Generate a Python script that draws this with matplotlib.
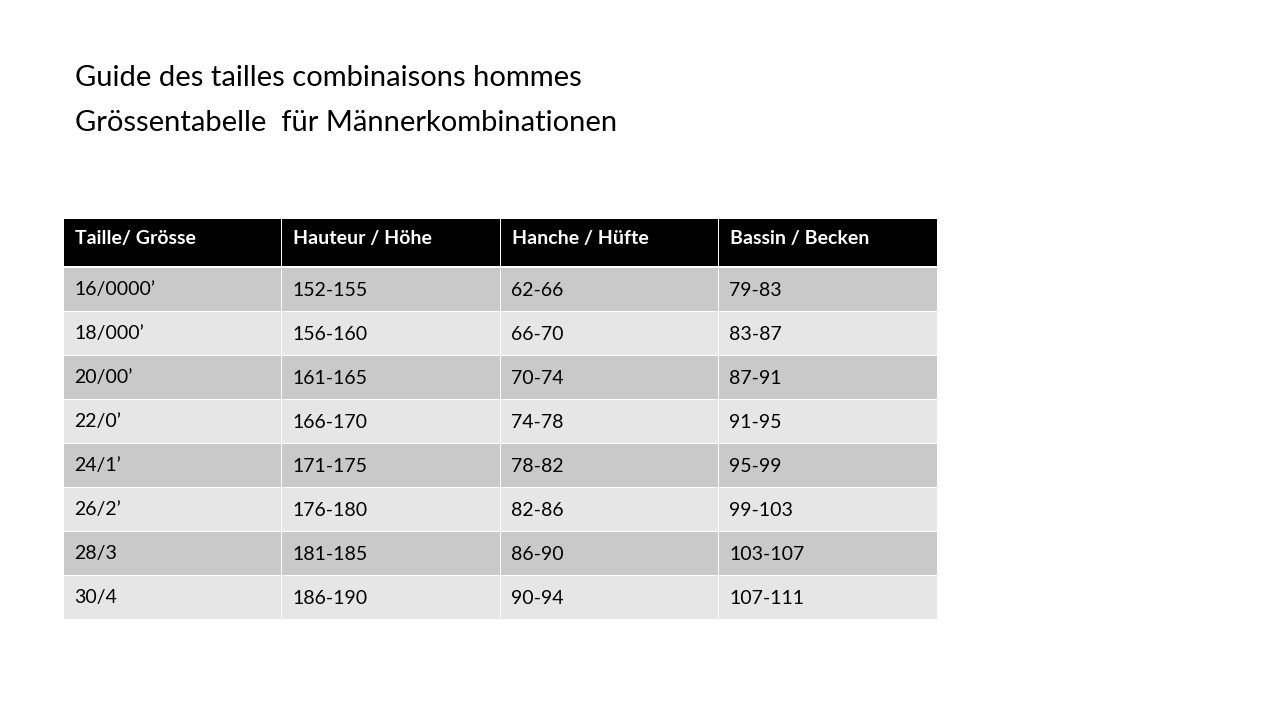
import matplotlib.pyplot as plt
from matplotlib.patches import Rectangle

TITLE_LINES = ["Guide des tailles combinaisons hommes",
               "Grössentabelle  für Männerkombinationen"]
HEADERS = ["Taille/ Grösse", "Hauteur / Höhe", "Hanche / Hüfte", "Bassin / Becken"]
SIZES = ["16/0000’", "18/000’", "20/00’", "22/0’", "24/1’", "26/2’", "28/3", "30/4"]
HEIGHTS = ["152-155", "156-160", "161-165", "166-170", "171-175", "176-180", "181-185", "186-190"]
HIPS = ["62-66", "66-70", "70-74", "74-78", "78-82", "82-86", "86-90", "90-94"]
PELVIS = ["79-83", "83-87", "87-91", "91-95", "95-99", "99-103", "103-107", "107-111"]

plt.rcParams['font.family'] = ['Lato', 'DejaVu Sans']

fig = plt.figure(figsize=(12.8, 7.2), dpi=100)
ax = fig.add_axes([0, 0, 1, 1])
ax.set_xlim(0, 1280)
ax.set_ylim(720, 0)
ax.axis("off")

for i, line in enumerate(TITLE_LINES):
    ax.text(75, 78 + i * 45, line, fontsize=21, va="center", ha="left", color="black")

col_x = [64, 282, 501, 719, 938]
header_top, header_bot = 219, 266
row_top, row_h = 268, 44
gap = 1.5

for c, h in enumerate(HEADERS):
    x0, x1 = col_x[c], col_x[c + 1]
    ax.add_patch(Rectangle((x0, header_top), x1 - x0 - gap, header_bot - header_top,
                           facecolor="black", edgecolor="none"))
    ax.text(x0 + 11, (header_top + header_bot) / 2 - 4, h, fontsize=14, fontweight="bold",
            color="white", va="center", ha="left")

rows = list(zip(SIZES, HEIGHTS, HIPS, PELVIS))
for r, row in enumerate(rows):
    y0 = row_top + r * row_h
    fc = "#C9C9C9" if r % 2 == 0 else "#E6E6E6"
    for c, val in enumerate(row):
        x0, x1 = col_x[c], col_x[c + 1]
        ax.add_patch(Rectangle((x0, y0), x1 - x0 - gap, row_h - gap,
                               facecolor=fc, edgecolor="none"))
        ax.text(x0 + 10, y0 + row_h / 2, val, fontsize=14, color="black",
                va="center", ha="left")

fig.savefig("out.png", dpi=100)
